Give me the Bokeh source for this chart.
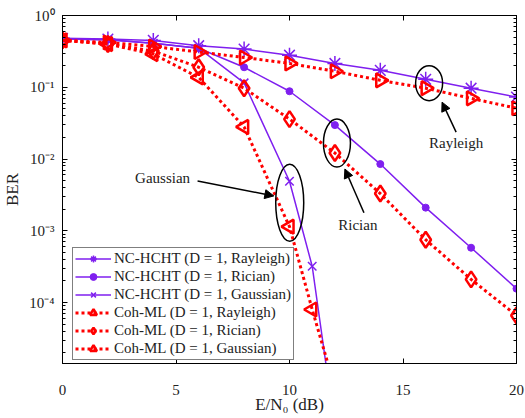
import math
from bokeh.plotting import figure
from bokeh.models import (Range1d, FixedTicker, CustomJSTickFormatter, LinearAxis, LogAxis,
                          Legend, LegendItem, Arrow, NormalHead, ColumnDataSource)
from bokeh.core.properties import value
from bokeh.embed import file_html
from bokeh.resources import INLINE

# ---------------- data ----------------
snr = [0, 2, 4, 6, 8, 10, 12, 14, 16, 18, 20]
snr_gauss = [0, 2, 4, 6, 8, 10, 11, 12]

nc_rayleigh = [0.48, 0.47, 0.45, 0.38, 0.34, 0.28, 0.215, 0.172, 0.129, 0.097, 0.073]
nc_rician = [0.47, 0.46, 0.41, 0.35, 0.19, 0.088, 0.0297, 0.0085, 0.0021, 5.8e-4, 1.56e-4]
nc_gauss = [0.47, 0.46, 0.41, 0.35, 0.115, 0.0049, 3.2e-4, 1.8e-6]

coh_rayleigh = [0.45, 0.42, 0.37, 0.31, 0.26, 0.215, 0.167, 0.125, 0.097, 0.070, 0.051]
coh_rician = [0.45, 0.40, 0.32, 0.19, 0.097, 0.036, 0.0121, 0.0033, 7.5e-4, 2.1e-4, 6.6e-5]
coh_gauss = [0.45, 0.40, 0.29, 0.137, 0.028, 0.00114, 8e-5, 6.5e-6]

legend_labels = ["NC-HCHT (D = 1, Rayleigh)", "NC-HCHT (D = 1, Rician)", "NC-HCHT (D = 1, Gaussian)",
                 "Coh-ML (D = 1, Rayleigh)", "Coh-ML (D = 1, Rician)", "Coh-ML (D = 1, Gaussian)"]

x_ticks = [0, 5, 10, 15, 20]
y_ticks = [1e-4, 1e-3, 1e-2, 1e-1, 1]

# annotations
ann_labels = ["Rayleigh", "Rician", "Gaussian"]
ell_x = [16.15, 12.09, 10.01]
ell_y = [0.114, 0.0167, 0.00245]
ell_w = [27, 27, 28]
ell_h = [35, 48, 77]
txt_x = [17.34, 13.01, 4.41]
txt_y = [0.0167, 0.00121, 0.00545]
arr_x0 = [17.34, 13.28, 5.95]
arr_y0 = [0.0237, 0.00178, 0.00495]
arr_x1 = [16.72, 12.44, 9.31]
arr_y1 = [0.062, 0.00726, 0.00306]

PURPLE = "#7F1FEF"
RED = "#FF0000"
FONT = "Liberation Serif"

# ---------------- figure ----------------
p = figure(width=525, height=418, y_axis_type="log",
           x_range=Range1d(0, 20), y_range=Range1d(10 ** -4.85, 1),
           output_backend="svg", toolbar_location=None,
           min_border_left=62, min_border_right=9, min_border_top=15, min_border_bottom=55)
p.grid.visible = False
p.outline_line_color = "black"
p.outline_line_width = 1
p.background_fill_color = "white"

minor_y = []
for d in range(-5, 0):
    for m in range(2, 10):
        minor_y.append(m * 10 ** d)

sup_code = """
const e = Math.round(Math.log10(tick));
const m = {'-':'\u207b','0':'\u2070','1':'\u00b9','2':'\u00b2','3':'\u00b3','4':'\u2074','5':'\u2075'};
return '10' + String(e).split('').map(c => m[c]).join('');
"""

def style_axis(ax):
    ax.major_tick_in = 5
    ax.major_tick_out = 0
    ax.minor_tick_in = 3
    ax.minor_tick_out = 0
    ax.axis_line_color = "black"
    ax.major_tick_line_color = "black"
    ax.minor_tick_line_color = "black"
    ax.major_label_text_font = FONT
    ax.major_label_text_font_size = "15px"
    ax.major_label_text_color = "#222222"
    ax.axis_label_text_font = FONT
    ax.axis_label_text_font_size = "17px"
    ax.axis_label_text_font_style = "normal"
    ax.axis_label_text_color = "#222222"

xa = p.xaxis[0]
xa.ticker = FixedTicker(ticks=x_ticks, minor_ticks=[])
xa.axis_label = "E/N\u2080 (dB)"
xa.axis_label_standoff = -3
xa.major_label_standoff = 21
style_axis(xa)

ya = p.yaxis[0]
ya.ticker = FixedTicker(ticks=y_ticks, minor_ticks=minor_y)
ya.formatter = CustomJSTickFormatter(code=sup_code)
ya.axis_label = "BER"
ya.axis_label_standoff = 4
ya.major_label_standoff = 8
style_axis(ya)

top = LinearAxis(ticker=FixedTicker(ticks=x_ticks, minor_ticks=[]),
                 formatter=CustomJSTickFormatter(code="return '';"))
style_axis(top)
top.major_label_text_font_size = "0px"
top.major_label_standoff = 0
p.add_layout(top, "above")

right = LogAxis(ticker=FixedTicker(ticks=y_ticks, minor_ticks=minor_y),
                formatter=CustomJSTickFormatter(code="return '';"))
style_axis(right)
right.major_label_text_font_size = "0px"
right.major_label_standoff = 0
p.add_layout(right, "right")

# ---------------- curves ----------------
items = []

def curve(xs, ys, color, dash, lw, marker, size, mlw, fill, angle=0.0):
    src = ColumnDataSource(dict(x=xs, y=ys))
    lr = p.line("x", "y", source=src, line_color=color, line_width=lw, line_dash=dash)
    sr = p.scatter("x", "y", source=src, marker=marker, size=size, line_color=color,
                   line_width=mlw, fill_color=fill, angle=angle)
    return [lr, sr]

r1 = curve(snr, nc_rayleigh, PURPLE, "solid", 1.5, "asterisk", 15, 1.5, None)
r2 = curve(snr, nc_rician, PURPLE, "solid", 1.5, "circle", 7, 1, PURPLE)
r3 = curve(snr_gauss, nc_gauss, PURPLE, "solid", 1.5, "x", 12, 1.5, None)
r4 = curve(snr, coh_rayleigh, RED, "3 3", 3, "triangle", 14, 2.5, None, -math.pi / 2)
r5 = curve(snr, coh_rician, RED, "3 3", 3, "diamond", 16, 2.5, None)
r6 = curve(snr_gauss, coh_gauss, RED, "3 3", 3, "triangle", 14, 2.5, None, math.pi / 2)

for lab, rs in zip(legend_labels, [r1, r2, r3, r4, r5, r6]):
    items.append(LegendItem(label=lab, renderers=rs))

legend = Legend(items=items, location=(10, 3))
legend.label_text_font = FONT
legend.label_text_font_size = "15px"
legend.label_text_color = "#222222"
legend.glyph_width = 36
legend.glyph_height = 17
legend.label_height = 17
legend.label_standoff = 3
legend.spacing = 1
legend.padding = 2
legend.margin = 0
legend.border_line_color = "black"
legend.border_line_width = 1
legend.background_fill_alpha = 1
p.add_layout(legend, "center")

# ---------------- annotations ----------------
p.ellipse(x=ell_x, y=ell_y, width=ell_w, height=ell_h, width_units="screen", height_units="screen",
          fill_color=None, line_color="black", line_width=1.5)
p.text(x=txt_x, y=txt_y, text=ann_labels, text_font=value(FONT), text_font_size="15px",
       text_align="center", text_baseline="middle", text_color="#222222")
for a, b, c, d in zip(arr_x0, arr_y0, arr_x1, arr_y1):
    p.add_layout(Arrow(x_start=a, y_start=b, x_end=c, y_end=d, line_color="black", line_width=1.5,
                       end=NormalHead(size=9, fill_color="black", line_color="black")))

open("out.html", "w").write(file_html(p, INLINE))
